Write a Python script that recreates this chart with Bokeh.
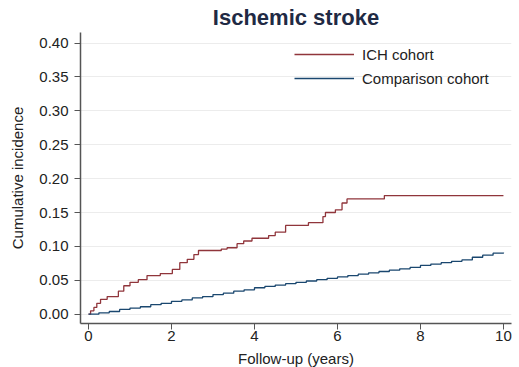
from bokeh.plotting import figure
from bokeh.layouts import row
from bokeh.models import Range1d, Legend, LegendItem, FixedTicker, CustomJSTickFormatter, Spacer
from bokeh.embed import file_html
from bokeh.resources import INLINE

# Data
ich_t = [0, 0.05, 0.13, 0.2, 0.29, 0.45, 0.72, 0.85, 1.0, 1.2, 1.41, 1.73, 2.02, 2.2, 2.38,
         2.54, 2.65, 3.2, 3.34, 3.58, 3.74, 3.94, 4.34, 4.5, 4.75, 5.3, 5.65, 5.71, 5.95,
         6.11, 6.23, 7.13, 10.0]
ich_y = [0, 0.005, 0.010, 0.016, 0.022, 0.026, 0.034, 0.042, 0.047, 0.051, 0.057, 0.060,
         0.066, 0.076, 0.081, 0.088, 0.094, 0.096, 0.098, 0.104, 0.108, 0.112, 0.116, 0.121,
         0.131, 0.135, 0.144, 0.150, 0.154, 0.164, 0.170, 0.175, 0.175]

cmp_t = [0, 0.25, 0.5, 0.75, 1.0, 1.25, 1.5, 1.75, 2.0, 2.25, 2.5, 2.75, 3.0, 3.25, 3.5,
         3.75, 4.0, 4.25, 4.5, 4.75, 5.0, 5.25, 5.5, 5.75, 6.0, 6.25, 6.5, 6.75, 7.0, 7.25,
         7.5, 7.75, 8.0, 8.25, 8.5, 8.75, 9.0, 9.25, 9.5, 9.75, 10.0]
cmp_y = [0, 0.002, 0.004, 0.007, 0.009, 0.011, 0.014, 0.016, 0.019, 0.021, 0.024, 0.026,
         0.029, 0.031, 0.034, 0.036, 0.039, 0.041, 0.043, 0.045, 0.047, 0.049, 0.051, 0.053,
         0.055, 0.057, 0.059, 0.061, 0.063, 0.065, 0.067, 0.069, 0.072, 0.074, 0.076, 0.078,
         0.080, 0.084, 0.087, 0.090, 0.091]

x_ticks = [0, 2, 4, 6, 8, 10]
y_ticks = [0.0, 0.05, 0.10, 0.15, 0.20, 0.25, 0.30, 0.35, 0.40]

series_names = ["ICH cohort", "Comparison cohort"]
series_colors = ["#90353b", "#1a476f"]

FONT = "Liberation Sans"

p = figure(frame_width=431, frame_height=291, output_backend="svg", toolbar_location=None,
           x_range=Range1d(-0.193, 10.194), y_range=Range1d(-0.0137, 0.4155),
           min_border_left=0, min_border_right=1, min_border_bottom=0, min_border_top=0,
           title="Ischemic stroke")
p.outline_line_color = None
p.background_fill_color = "white"

p.title.text_font = FONT
p.title.text_font_size = "22px"
p.title.text_font_style = "bold"
p.title.text_color = "#1f2a44"
p.title.align = "center"
p.title.standoff = 5

r1 = p.step(ich_t, ich_y, mode="after", line_color=series_colors[0], line_width=1.3)
r2 = p.step(cmp_t, cmp_y, mode="after", line_color=series_colors[1], line_width=1.3)

p.xaxis.ticker = FixedTicker(ticks=x_ticks)
p.yaxis.ticker = FixedTicker(ticks=y_ticks)
p.yaxis.formatter = CustomJSTickFormatter(code="return tick.toFixed(2);")
p.xaxis.axis_label = "Follow-up (years)"
p.yaxis.axis_label = "Cumulative incidence"

for ax in (p.xaxis[0], p.yaxis[0]):
    ax.axis_label_text_font = FONT
    ax.axis_label_text_font_size = "15px"
    ax.axis_label_text_font_style = "normal"
    ax.axis_label_text_color = "#222222"
    ax.major_label_text_font = FONT
    ax.major_label_text_font_size = "15px"
    ax.major_label_text_color = "#222222"
    ax.axis_line_color = "#555555"
    ax.axis_line_width = 1.5
    ax.major_tick_line_color = "#555555"
    ax.major_tick_out = 6
    ax.major_tick_in = 0
    ax.minor_tick_out = 0
    ax.minor_tick_in = 0

p.yaxis.major_label_standoff = 6
p.yaxis.axis_label_standoff = 10
p.xaxis.major_label_standoff = 1
p.xaxis.axis_label_standoff = 6

p.xgrid.grid_line_color = None
p.ygrid.grid_line_color = "#ececec"
p.ygrid.grid_line_width = 1

legend = Legend(items=[LegendItem(label=series_names[0], renderers=[r1]),
                       LegendItem(label=series_names[1], renderers=[r2])],
                location=(214, 234), orientation="vertical")
legend.border_line_color = None
legend.background_fill_alpha = 0
legend.margin = 0
legend.padding = 0
legend.spacing = 2
legend.glyph_width = 60
legend.glyph_height = 22
legend.label_height = 22
legend.label_standoff = 8
legend.label_text_font = FONT
legend.label_text_font_size = "15px"
legend.label_text_color = "#222222"
p.add_layout(legend, "center")

layout = row(Spacer(width=6, height=10), p)

open("out.html", "w").write(file_html(layout, INLINE))
